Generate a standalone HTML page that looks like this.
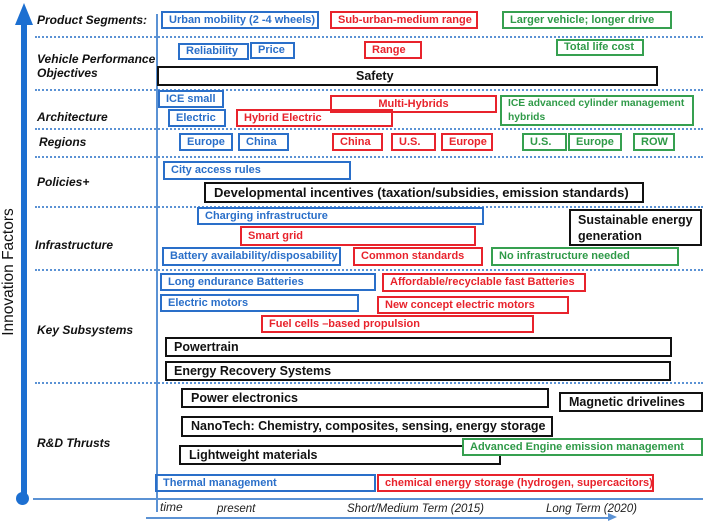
<!DOCTYPE html>
<html><head><meta charset="utf-8"><style>
body{margin:0;width:708px;height:523px;background:#fff;position:relative;overflow:hidden;font-family:"Liberation Sans",sans-serif}
.b{position:absolute;box-sizing:border-box;border:2px solid;font-weight:bold;font-size:11px;padding-left:6px;white-space:nowrap;display:flex;align-items:center;line-height:13px}
.u{border-color:#2a6fc9;color:#2a6fc9}
.r{border-color:#e8232c;color:#e8232c}
.g{border-color:#36a050;color:#2f9a48}
.k{border-color:#111;color:#111;font-size:12.5px;padding-left:12px}
.l{position:absolute;font-weight:bold;font-style:italic;font-size:12px;color:#111;line-height:14px}
.d{position:absolute;left:35px;width:668px;border-top:2px dotted #5b92d4;height:0}
.t{position:absolute;font-style:italic;font-size:11.5px;color:#222}
</style></head><body>
<div style="position:absolute;left:21px;top:22px;width:6px;height:476px;background:#1c6fd1"></div>
<div style="position:absolute;left:15px;top:3px;width:0;height:0;border-left:9px solid transparent;border-right:9px solid transparent;border-bottom:22px solid #1c6fd1"></div>
<div style="position:absolute;left:16px;top:492px;width:13px;height:13px;border-radius:50%;background:#1c6fd1"></div>
<div style="position:absolute;left:9px;top:272px;transform:translate(-50%,-50%) rotate(-90deg);font-size:15.5px;color:#111;white-space:nowrap">Innovation Factors</div>
<div style="position:absolute;left:156px;top:14px;width:2px;height:498px;background:#5b92d4"></div>
<div style="position:absolute;left:33px;top:498px;width:670px;height:2px;background:#5b92d4"></div>
<div style="position:absolute;left:146px;top:517px;width:464px;height:1.5px;background:#5b92d4"></div>
<div style="position:absolute;left:608px;top:513px;border-top:4px solid transparent;border-bottom:4px solid transparent;border-left:9px solid #5b92d4"></div>
<div class="d" style="top:36px"></div><div class="d" style="top:89px"></div><div class="d" style="top:128px"></div><div class="d" style="top:156px"></div><div class="d" style="top:206px"></div><div class="d" style="top:269px"></div><div class="d" style="top:382px"></div>
<div class="l" style="left:37px;top:13px">Product Segments:</div>
<div class="l" style="left:37px;top:52px">Vehicle Performance<br>Objectives</div>
<div class="l" style="left:37px;top:110px">Architecture</div>
<div class="l" style="left:39px;top:135px">Regions</div>
<div class="l" style="left:37px;top:175px">Policies+</div>
<div class="l" style="left:35px;top:238px">Infrastructure</div>
<div class="l" style="left:37px;top:323px">Key Subsystems</div>
<div class="l" style="left:37px;top:436px">R&amp;D Thrusts</div>
<div class="b u" style="left:161px;top:11px;width:158px;height:18px">Urban mobility (2 -4 wheels)</div>
<div class="b r" style="left:330px;top:11px;width:148px;height:18px">Sub-urban-medium range</div>
<div class="b g" style="left:502px;top:11px;width:170px;height:18px">Larger vehicle; longer drive</div>
<div class="b u" style="left:178px;top:43px;width:71px;height:17px">Reliability</div>
<div class="b u" style="left:250px;top:42px;width:45px;height:17px">Price</div>
<div class="b r" style="left:364px;top:41px;width:58px;height:18px">Range</div>
<div class="b g" style="left:556px;top:39px;width:88px;height:17px">Total life cost</div>
<div class="b k" style="left:157px;top:66px;width:501px;height:20px;padding-left:197px">Safety</div>
<div class="b u" style="left:158px;top:90px;width:66px;height:18px">ICE small</div>
<div class="b r" style="left:330px;top:95px;width:167px;height:18px;justify-content:center;padding:0">Multi-Hybrids</div>
<div class="b u" style="left:168px;top:109px;width:58px;height:18px">Electric</div>
<div class="b r" style="left:236px;top:109px;width:157px;height:18px">Hybrid Electric</div>
<div class="b g" style="left:500px;top:95px;width:194px;height:31px;line-height:14px;font-size:10.3px;padding-left:6px">ICE advanced cylinder management<br>hybrids</div>
<div class="b u" style="left:179px;top:133px;width:54px;height:18px">Europe</div>
<div class="b u" style="left:238px;top:133px;width:51px;height:18px">China</div>
<div class="b r" style="left:332px;top:133px;width:51px;height:18px">China</div>
<div class="b r" style="left:391px;top:133px;width:45px;height:18px">U.S.</div>
<div class="b r" style="left:441px;top:133px;width:52px;height:18px">Europe</div>
<div class="b g" style="left:522px;top:133px;width:45px;height:18px">U.S.</div>
<div class="b g" style="left:568px;top:133px;width:54px;height:18px">Europe</div>
<div class="b g" style="left:633px;top:133px;width:42px;height:18px">ROW</div>
<div class="b u" style="left:163px;top:161px;width:188px;height:19px">City access rules</div>
<div class="b k" style="left:204px;top:182px;width:440px;height:21px;font-size:13px;padding-left:8px">Developmental incentives (taxation/subsidies, emission standards)</div>
<div class="b u" style="left:197px;top:207px;width:287px;height:18px">Charging infrastructure</div>
<div class="b r" style="left:240px;top:226px;width:236px;height:20px">Smart grid</div>
<div class="b k" style="left:569px;top:209px;width:133px;height:37px;white-space:normal;font-size:12.5px;padding-left:7px;line-height:16px">Sustainable energy generation</div>
<div class="b u" style="left:162px;top:247px;width:179px;height:19px">Battery availability/disposability</div>
<div class="b r" style="left:353px;top:247px;width:130px;height:19px">Common standards</div>
<div class="b g" style="left:491px;top:247px;width:188px;height:19px">No infrastructure needed</div>
<div class="b u" style="left:160px;top:273px;width:216px;height:18px">Long endurance Batteries</div>
<div class="b r" style="left:382px;top:273px;width:204px;height:19px">Affordable/recyclable fast Batteries</div>
<div class="b u" style="left:160px;top:294px;width:199px;height:18px">Electric motors</div>
<div class="b r" style="left:377px;top:296px;width:192px;height:18px">New concept electric motors</div>
<div class="b r" style="left:261px;top:315px;width:273px;height:18px">Fuel cells –based propulsion</div>
<div class="b k" style="left:165px;top:337px;width:507px;height:20px;padding-left:7px">Powertrain</div>
<div class="b k" style="left:165px;top:361px;width:506px;height:20px;padding-left:7px">Energy Recovery Systems</div>
<div class="b k" style="left:181px;top:388px;width:368px;height:20px;padding-left:8px">Power electronics</div>
<div class="b k" style="left:559px;top:392px;width:144px;height:20px;padding-left:8px">Magnetic drivelines</div>
<div class="b k" style="left:181px;top:416px;width:372px;height:21px;padding-left:8px">NanoTech: Chemistry, composites, sensing, energy storage</div>
<div class="b k" style="left:179px;top:445px;width:322px;height:20px;padding-left:8px">Lightweight materials</div>
<div class="b g" style="left:462px;top:438px;width:241px;height:18px;background:#fff">Advanced Engine emission management</div>
<div class="b u" style="left:155px;top:474px;width:221px;height:18px">Thermal management</div>
<div class="b r" style="left:377px;top:474px;width:277px;height:18px">chemical energy storage (hydrogen, supercacitors)</div>
<div class="t" style="left:160px;top:500px;font-size:12px">time</div>
<div class="t" style="left:217px;top:503px">present</div>
<div class="t" style="left:347px;top:503px">Short/Medium Term (2015)</div>
<div class="t" style="left:546px;top:503px">Long Term (2020)</div>
</body></html>
